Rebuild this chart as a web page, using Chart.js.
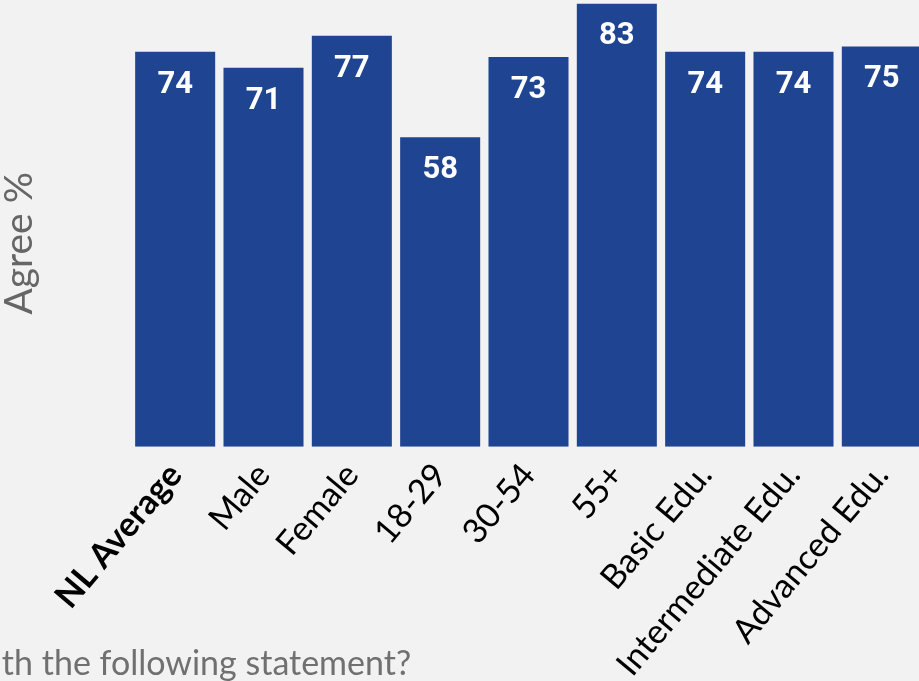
<!DOCTYPE html>
<html>
<head>
<meta charset="utf-8">
<script src="https://cdn.jsdelivr.net/npm/chart.js@4"></script>
<style>
    html, body { margin: 0; padding: 0; background: #f2f2f2; overflow: hidden; width: 919px; height: 681px; }
    /* chart is shifted left so the start of the question falls off the page, like the source */
    #wrap { position: absolute; left: -33px; top: 0; width: 959px; height: 681px; }
</style>
</head>
<body>
<div id="wrap"><canvas id="myChart"></canvas></div>
<script>
// data
var categories = ['NL Average', 'Male', 'Female', '18-29', '30-54', '55+', 'Basic Edu.', 'Intermediate Edu.', 'Advanced Edu.'];
var agreeValues = [74, 71, 77, 58, 73, 83, 74, 74, 75];
var yTitle = 'Agree %';
var question = 'with the following statement?';

var SHIFT = 33; // same as #wrap left offset

// white value labels inside top of each bar
var barLabels = {
    id: 'barLabels',
    afterDatasetsDraw: function (chart) {
        var ctx = chart.ctx;
        var meta = chart.getDatasetMeta(0);
        ctx.save();
        ctx.fillStyle = '#ffffff';
        ctx.font = 'bold 31px Roboto';
        ctx.textAlign = 'center';
        ctx.textBaseline = 'middle';
        meta.data.forEach(function (bar, i) {
            ctx.fillText(agreeValues[i], bar.x, bar.y + 33);
        });
        ctx.restore();
    }
};

// rotated y axis title
var axisTitle = {
    id: 'axisTitle',
    afterDraw: function (chart) {
        var ctx = chart.ctx;
        var a = chart.chartArea;
        ctx.save();
        ctx.translate(SHIFT + 32, (a.top + a.bottom) / 2 + 20);
        ctx.rotate(-Math.PI / 2);
        ctx.font = '39px Lato';
        ctx.fillStyle = '#666666';
        ctx.textAlign = 'center';
        ctx.textBaseline = 'alphabetic';
        ctx.fillText(yTitle, 0, 0);
        ctx.restore();
    }
};

var chart = document.querySelector('#myChart');
var myChart = new Chart(chart, {
    type: 'bar',
    data: {
        labels: categories,
        datasets: [{
            label: yTitle,
            data: agreeValues,
            backgroundColor: '#1f4592',
            borderWidth: 0,
            categoryPercentage: 1,
            barPercentage: 0.906
        }]
    },
    options: {
        responsive: true,
        maintainAspectRatio: false,
        animation: false,
        layout: { padding: 0 },
        scales: {
            x: {
                grid: { display: false, drawTicks: false },
                border: { display: false },
                ticks: {
                    color: '#000000',
                    maxRotation: 50,
                    minRotation: 50,
                    padding: 9,
                    autoSkip: false,
                    font: function (c) {
                        if (c.index === 0) return { family: 'Lato', size: 34, weight: 'bold' };
                        return { family: 'Lato', size: 34 };
                    }
                },
                // axis runs to the bottom edge so long labels are not clipped
                afterFit: function (s) { s.height = 234.3; }
            },
            y: {
                min: 0,
                max: 83.7,
                grid: { display: false, drawTicks: false },
                border: { display: false },
                ticks: { display: false },
                afterFit: function (s) { s.width = 131 + SHIFT; }
            }
        },
        plugins: {
            legend: { display: false },
            tooltip: { enabled: false },
            title: {
                display: true,
                position: 'bottom',
                align: 'start',
                text: question,
                color: '#707070',
                font: { family: 'Lato', size: 34, weight: 'normal', lineHeight: 1 },
                // zero-height box: the text sits over the bottom of the x axis
                padding: { top: -34, bottom: 0 }
            }
        }
    },
    plugins: [barLabels, axisTitle]
});
</script>
</body>
</html>
